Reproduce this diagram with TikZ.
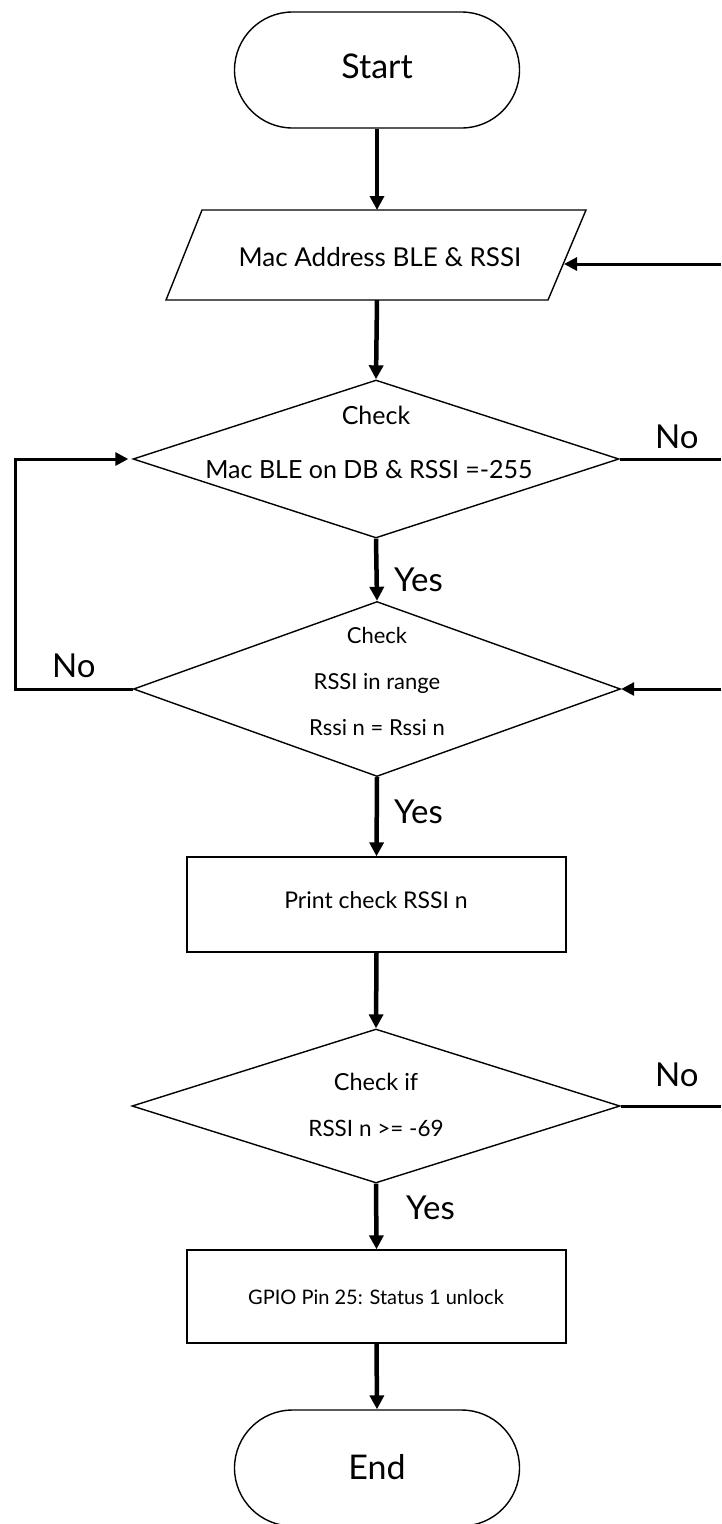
\documentclass[tikz,border=0pt]{standalone}
\usepackage{fontspec}
\setmainfont{Lato}
\usetikzlibrary{shapes.geometric,arrows.meta}
\begin{document}
\begin{tikzpicture}[x=1pt,y=-1pt,
  shapeline/.style={draw=black,line width=1.4pt},
  term/.style={shapeline,rectangle,rounded corners=58pt,minimum width=285pt,minimum height=116pt,inner sep=0pt},
  dec/.style={shapeline,diamond,inner sep=0pt},
  proc/.style={shapeline,rectangle,minimum width=379pt,inner sep=0pt},
  txt/.style={font=\fontsize{22}{24}\selectfont,inner sep=0pt,anchor=base},
  bigtxt/.style={font=\fontsize{34}{36}\selectfont,inner sep=0pt,anchor=base},
  lbl/.style={font=\fontsize{33}{35}\selectfont,inner sep=0pt,anchor=base west},
  arr/.style={line width=4.5pt,-{Triangle[length=14pt,width=14pt]}},
  arrh/.style={line width=3pt,-{Triangle[length=13pt,width=13pt]}},
  lineh/.style={line width=3pt}
]
\useasboundingbox (0,0) rectangle (721,1524);

% Start
\node[term] (start) at (377,70) {};
\node[bigtxt] (starttxt) at (377,78) {Start};

% Input / output
\coordinate (ioA) at (166,300);
\coordinate (ioB) at (548,300);
\coordinate (ioC) at (586,210);
\coordinate (ioD) at (202,210);
\draw[shapeline] (ioA) -- (ioB) -- (ioC) -- (ioD) -- cycle;
\node[txt,font=\fontsize{26}{28}\selectfont] (iotxt) at (380,266) {Mac Address BLE \& RSSI};
\coordinate (ioTop) at (377,210);
\coordinate (ioBot) at (377,300);
\coordinate (ioRight) at (564,264);
\coordinate (inR1) at (721,264);

% Decision 1
\node[dec,minimum width=486pt,minimum height=158pt] (d1) at (376,459) {};
\node[txt,font=\fontsize{25}{27}\selectfont] (d1a) at (376,424) {Check};
\node[txt,font=\fontsize{25}{27}\selectfont] (d1b) at (369,478) {Mac BLE on DB \& RSSI =-255};
\coordinate (outR1) at (721,459);

% Decision 2
\node[dec,minimum width=487pt,minimum height=175pt] (d2) at (377,689) {};
\node[txt] (d2a) at (377,643) {Check};
\node[txt] (d2b) at (377,689) {RSSI in range};
\node[txt] (d2c) at (377,735) {Rssi n = Rssi n};
\coordinate (inR2) at (721,689);
\coordinate (loopL) at (15,689);

% Process 1
\node[proc,minimum height=95pt] (r1) at (376.5,904.5) {};
\node[txt,font=\fontsize{23}{25}\selectfont] (r1t) at (376,908) {Print check RSSI n};

% Decision 3
\node[dec,minimum width=488pt,minimum height=154pt] (d3) at (376,1106) {};
\node[txt,font=\fontsize{23.5}{25}\selectfont] (d3a) at (376,1090) {Check if};
\node[txt,font=\fontsize{22.5}{25}\selectfont] (d3b) at (376,1136) {RSSI n >= -69};
\coordinate (outR3) at (721,1106);

% Process 2
\node[proc,minimum height=93pt] (r2) at (376.5,1296.5) {};
\node[txt,font=\fontsize{20}{22}\selectfont] (r2t) at (376,1304) {GPIO Pin 25: Status 1 unlock};

% End
\node[term] (end) at (377,1468) {};
\node[bigtxt] (endtxt) at (377,1479) {End};

% Connectors
\draw[arr] (start.south) -- (ioTop);
\draw[arr] (ioBot) -- (d1.north);
\draw[arrh] (inR1) -- (ioRight);
\draw[lineh] (d1.east) -- (outR1);
\draw[arr] (d1.south) -- (d2.north);
\draw[arrh] (inR2) -- (d2.east);
\draw[arrh] (d2.west) -- (loopL) |- ([xshift=-4pt]d1.west);
\draw[arr] (d2.south) -- (r1.north);
\draw[arr] (r1.south) -- (d3.north);
\draw[lineh] (d3.east) -- (outR3);
\draw[arr] (d3.south) -- (r2.north);
\draw[arr] (r2.south) -- (end.north);

% Labels
\node[lbl] (no1) at (655,448) {No};
\node[lbl] (yes1) at (394,591) {Yes};
\node[lbl] (no2) at (52,677) {No};
\node[lbl] (yes2) at (394,823) {Yes};
\node[lbl] (no3) at (655,1086) {No};
\node[lbl] (yes3) at (406,1219) {Yes};
\end{tikzpicture}
\end{document}
